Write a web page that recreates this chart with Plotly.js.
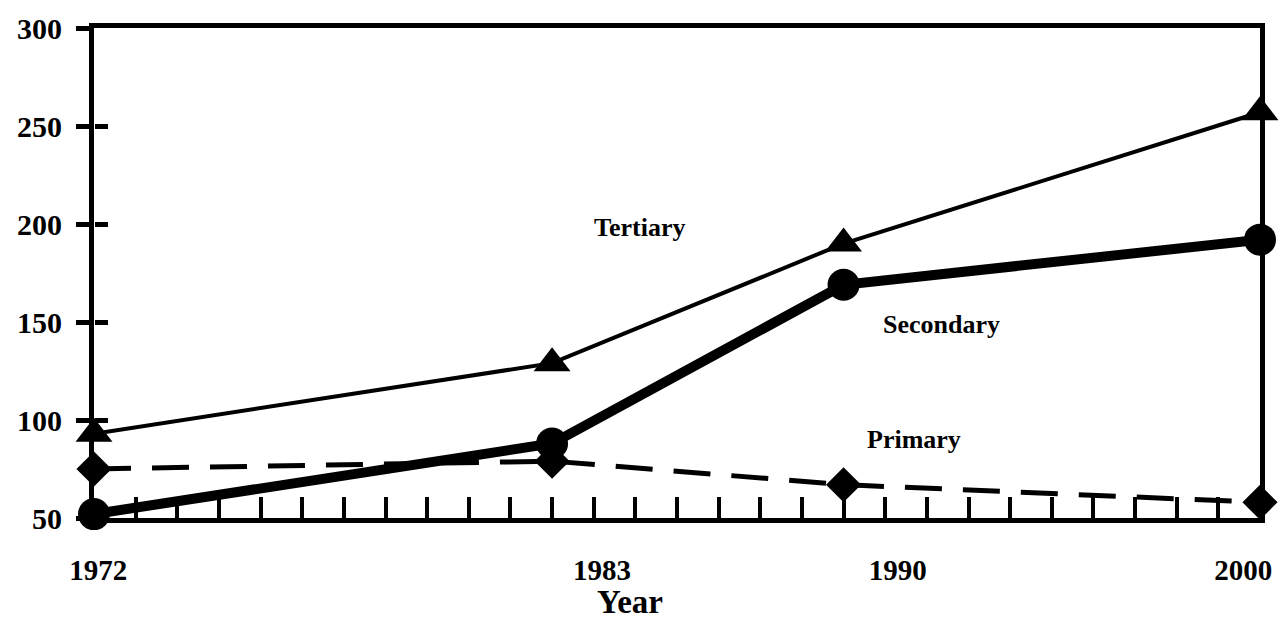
<!DOCTYPE html>
<html>
<head>
<meta charset="utf-8">
<script src="https://cdn.plot.ly/plotly-3.0.1.min.js"></script>
<style>html,body{margin:0;padding:0;background:#fff;}#chart{width:1280px;height:623px;}</style>
</head>
<body>
<div id="chart"></div>
<script>
// Data
var years = [1972, 1983, 1990, 2000];
var tertiary = [93, 129, 190, 257];
var secondary = [52, 88, 169, 192];
var primary = [75, 79, 67, 58];

// Tick labels (as placed in the original, slightly offset from the data years)
var xLabelPos = [1972.1, 1984.2, 1991.3, 1999.6];
var xLabelText = ['1972', '1983', '1990', '2000'];
var yTickVals = [50, 100, 150, 200, 250, 300];
var yCrossTicks = [100, 150, 200, 250];

// Series name labels
var labelNames = ['Tertiary', 'Secondary', 'Primary'];
var labelX = [1985.1, 1992.35, 1991.7];
var labelY = [198, 148.5, 90];

var serif = '"Liberation Serif", "DejaVu Serif", serif';

var traces = [
  {x: years, y: tertiary, mode: 'lines+markers', cliponaxis: false,
   line: {color: '#000', width: 4},
   marker: {symbol: 'triangle-up', size: 32, color: '#000'}},
  {x: years, y: primary, mode: 'lines+markers', cliponaxis: false,
   line: {color: '#000', width: 5, dash: '37px,21px'},
   marker: {symbol: 'diamond', size: 27, color: '#000'}},
  {x: years, y: secondary, mode: 'lines+markers', cliponaxis: false,
   line: {color: '#000', width: 10},
   marker: {symbol: 'circle', size: 32, color: '#000'}},
  // invisible helpers so the overlaid tick-only axes get drawn
  {x: years, y: tertiary, xaxis: 'x2', yaxis: 'y', mode: 'lines', opacity: 0,
   line: {width: 0}, hoverinfo: 'skip'},
  {x: years, y: tertiary, xaxis: 'x', yaxis: 'y2', mode: 'lines', opacity: 0,
   line: {width: 0}, hoverinfo: 'skip'}
];

var annotations = labelNames.map(function (t, i) {
  return {x: labelX[i], y: labelY[i], xref: 'x', yref: 'y', text: t, showarrow: false,
          font: {family: serif, size: 26, color: '#000', weight: 'bold'}};
});
annotations.push({x: 0.46, y: -0.172, xref: 'paper', yref: 'paper', text: 'Year',
  showarrow: false, yanchor: 'middle',
  font: {family: serif, size: 33, color: '#000', weight: 'bold'}});

var layout = {
  width: 1280, height: 623,
  margin: {l: 94, r: 20, t: 28, b: 105},
  paper_bgcolor: '#fff', plot_bgcolor: '#fff',
  showlegend: false,
  xaxis: {
    range: [1972, 2000], showgrid: false, zeroline: false,
    showline: true, mirror: true, linecolor: '#000', linewidth: 5,
    tickvals: xLabelPos, ticktext: xLabelText, ticks: '',
    ticklabelstandoff: 22,
    tickfont: {family: serif, size: 29, color: '#000', weight: 'bold'}
  },
  xaxis2: {
    overlaying: 'x', anchor: 'y', side: 'bottom',
    range: [1972, 2000], showgrid: false, zeroline: false, showline: false,
    tickmode: 'linear', tick0: 1972, dtick: 1, ticks: 'inside', ticklen: 21, tickwidth: 4, tickcolor: '#000',
    showticklabels: false
  },
  yaxis: {
    range: [50, 300], showgrid: false, zeroline: false,
    showline: true, mirror: true, linecolor: '#000', linewidth: 5,
    tickvals: yTickVals, ticks: 'outside', ticklen: 13, tickwidth: 5, tickcolor: '#000',
    ticklabelstandoff: 8,
    tickfont: {family: serif, size: 30, color: '#000', weight: 'bold'}
  },
  yaxis2: {
    overlaying: 'y', anchor: 'free', position: 0, side: 'left',
    range: [50, 300], showgrid: false, zeroline: false, showline: false,
    tickmode: 'array', tickvals: yCrossTicks, ticks: 'inside', ticklen: 13, tickwidth: 5, tickcolor: '#000',
    showticklabels: false
  },
  annotations: annotations
};

Plotly.newPlot('chart', traces, layout, {displayModeBar: false, staticPlot: true});
</script>
</body>
</html>
